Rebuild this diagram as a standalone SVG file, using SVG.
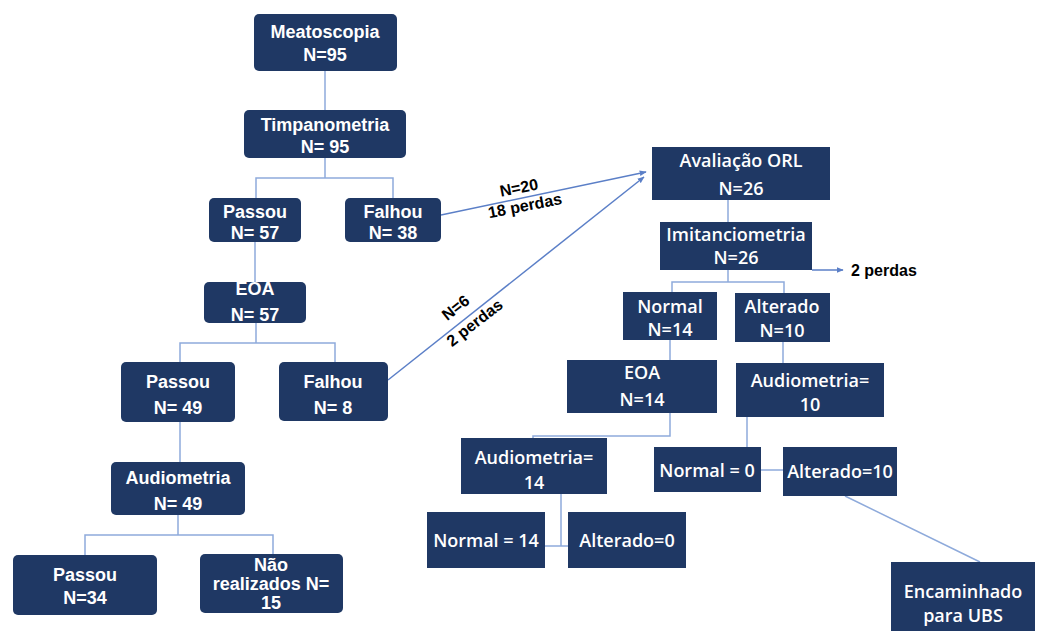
<svg xmlns="http://www.w3.org/2000/svg" width="1040" height="631" viewBox="0 0 1040 631">
<defs>
<style>
.n{fill:#1f3864}
.l{fill:#fff;font-family:"Liberation Sans",Arial,sans-serif;font-weight:bold;font-size:18px;text-anchor:middle}
.r{fill:#fff;font-family:"Open Sans","Liberation Sans",sans-serif;font-weight:600;font-size:18px;text-anchor:middle}
.c{fill:none;stroke:#8eaadb;stroke-width:1.5}
.a{fill:none;stroke:#5b7fc7;stroke-width:1.5}
.t{fill:#000;font-family:"Liberation Sans",Arial,sans-serif;font-weight:bold;font-size:16px;text-anchor:middle}
</style>
<marker id="ah" viewBox="0 0 10 10" refX="9" refY="5" markerWidth="7" markerHeight="7" orient="auto" markerUnits="userSpaceOnUse">
<path d="M0,1 L10,5 L0,9 z" fill="#5b7fc7"/>
</marker>
</defs>
<rect width="1040" height="631" fill="#fff"/>
<g id="connectors">
<path class="c" d="M325 71V110M325 158V178M256 198V178H393V198M255 242V282M256 323V343M180 362V343H335V362M180 422V462M178 515V535M85 555V535H273V554"/>
<path class="c" d="M728 200V222M728 270V282M672 292V282H784V293M670 340V360M783 342V363M670 413V436H533V438M747 417V447M761 470H783M561 494V546M545 546H568M845 496L980 562"/>
<path class="a" d="M441 215L646 172" marker-end="url(#ah)"/>
<path class="a" d="M388 380L644 177" marker-end="url(#ah)"/>
<path class="a" d="M812 270H843" marker-end="url(#ah)"/>
<text class="t" transform="translate(520 193) rotate(-11)">N=20</text>
<text class="t" transform="translate(526 211) rotate(-11)">18 perdas</text>
<text class="t" transform="translate(459 312) rotate(-38)">N=6</text>
<text class="t" transform="translate(478 327) rotate(-38)">2 perdas</text>
<text class="t" x="851" y="276" style="text-anchor:start">2 perdas</text>
</g>
<g id="meatoscopia"><rect class="n" x="254" y="14" width="143" height="57" rx="5"/><text class="l" x="325" y="38">Meatoscopia</text><text class="l" x="325" y="61">N=95</text></g>
<g id="timpanometria"><rect class="n" x="244" y="110" width="162" height="48" rx="5"/><text class="l" x="325" y="131">Timpanometria</text><text class="l" x="325" y="153">N= 95</text></g>
<g id="passou57"><rect class="n" x="209" y="198" width="92" height="44" rx="5"/><text class="l" x="255" y="218">Passou</text><text class="l" x="255" y="239">N= 57</text></g>
<g id="falhou38"><rect class="n" x="345" y="198" width="96" height="44" rx="5"/><text class="l" x="393" y="218">Falhou</text><text class="l" x="393" y="239">N= 38</text></g>
<g id="eoa57"><rect class="n" x="204" y="282" width="102" height="41" rx="5"/><text class="l" x="255" y="295">EOA</text><text class="l" x="255" y="321">N= 57</text></g>
<g id="passou49"><rect class="n" x="121" y="362" width="114" height="60" rx="5"/><text class="l" x="178" y="388">Passou</text><text class="l" x="178" y="414">N= 49</text></g>
<g id="falhou8"><rect class="n" x="279" y="362" width="109" height="59" rx="5"/><text class="l" x="333" y="388">Falhou</text><text class="l" x="333" y="414">N= 8</text></g>
<g id="audiometria49"><rect class="n" x="111" y="462" width="134" height="53" rx="5"/><text class="l" x="178" y="484">Audiometria</text><text class="l" x="178" y="510">N= 49</text></g>
<g id="passou34"><rect class="n" x="13" y="555" width="144" height="60" rx="5"/><text class="l" x="85" y="581">Passou</text><text class="l" x="85" y="604">N=34</text></g>
<g id="naorealizados"><rect class="n" x="200" y="554" width="143" height="59" rx="5"/><text class="l" x="271" y="571">Não</text><text class="l" x="271" y="590">realizados N=</text><text class="l" x="271" y="609">15</text></g>
<g id="avaliacaoorl"><rect class="n" x="652" y="147" width="178" height="53"/><text class="r" x="741" y="167">Avaliação ORL</text><text class="r" x="741" y="195">N=26</text></g>
<g id="imitanciometria"><rect class="n" x="660" y="222" width="152" height="48"/><text class="r" x="736" y="241">Imitanciometria</text><text class="r" x="736" y="264">N=26</text></g>
<g id="normal14"><rect class="n" x="623" y="292" width="94" height="48"/><text class="r" x="670" y="313">Normal</text><text class="r" x="670" y="336">N=14</text></g>
<g id="alterado10"><rect class="n" x="735" y="293" width="95" height="49"/><text class="r" x="782" y="313">Alterado</text><text class="r" x="782" y="337">N=10</text></g>
<g id="eoa14"><rect class="n" x="567" y="360" width="150" height="53"/><text class="r" x="642" y="379">EOA</text><text class="r" x="642" y="406">N=14</text></g>
<g id="audiometria10"><rect class="n" x="736" y="363" width="148" height="54"/><text class="r" x="810" y="387">Audiometria=</text><text class="r" x="810" y="411">10</text></g>
<g id="audiometria14"><rect class="n" x="461" y="438" width="146" height="56"/><text class="r" x="534" y="464">Audiometria=</text><text class="r" x="534" y="489">14</text></g>
<g id="normal0"><rect class="n" x="654" y="447" width="107" height="45"/><text class="r" x="707" y="477">Normal = 0</text></g>
<g id="alterado10b"><rect class="n" x="783" y="447" width="114" height="49"/><text class="r" x="840" y="478">Alterado=10</text></g>
<g id="normal14b"><rect class="n" x="427" y="512" width="118" height="56"/><text class="r" x="486" y="547">Normal = 14</text></g>
<g id="alterado0"><rect class="n" x="568" y="512" width="118" height="56"/><text class="r" x="627" y="547">Alterado=0</text></g>
<g id="encaminhado"><rect class="n" x="891" y="562" width="144" height="72"/><text class="r" x="963" y="598">Encaminhado</text><text class="r" x="963" y="622">para UBS</text></g>
</svg>
